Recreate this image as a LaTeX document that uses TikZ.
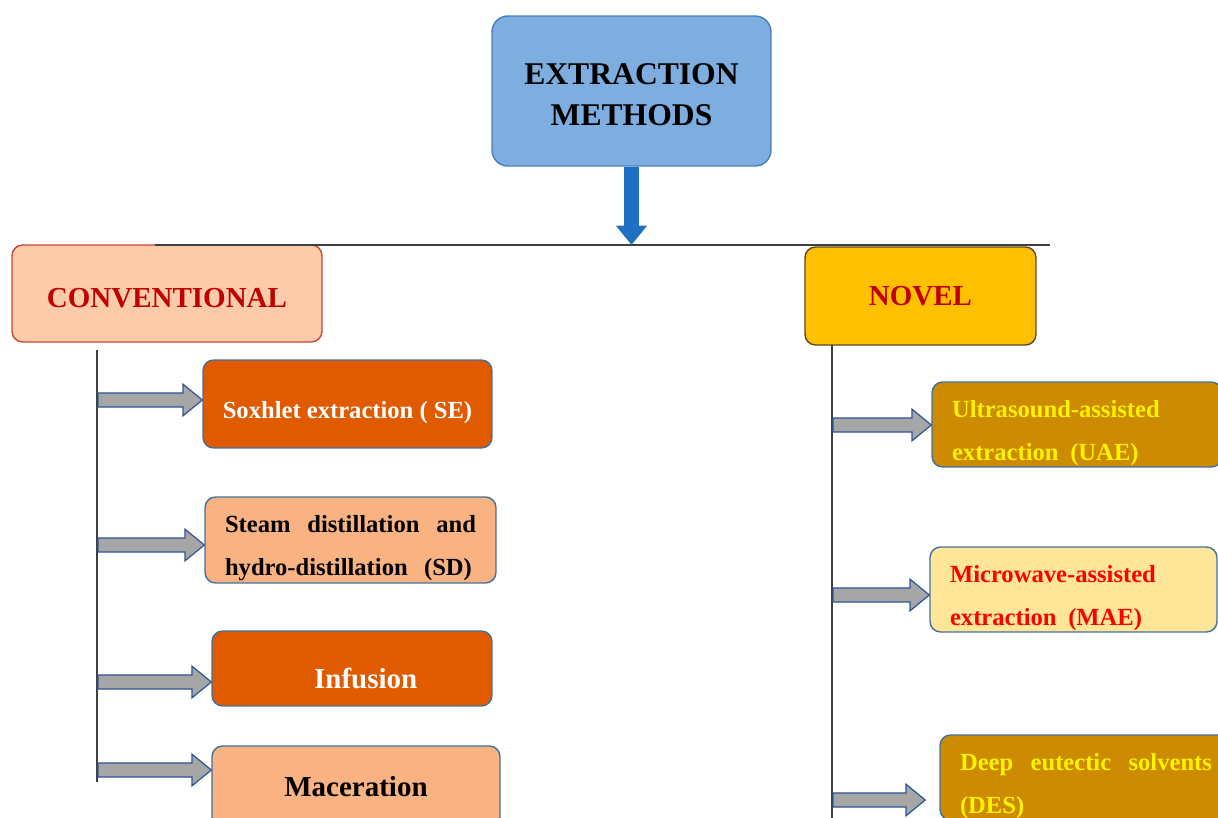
\documentclass[tikz,border=0pt]{standalone}
\usepackage{fontspec}
\setmainfont{Liberation Serif}
\usetikzlibrary{arrows.meta,calc}

\definecolor{titlefill}{HTML}{7EAEE0}
\definecolor{titleline}{HTML}{4A7EBB}
\definecolor{titlearrow}{HTML}{1F6FC2}
\definecolor{convfill}{HTML}{FCCBAA}
\definecolor{convline}{HTML}{C8463C}
\definecolor{headred}{HTML}{C00000}
\definecolor{novelfill}{HTML}{FFC000}
\definecolor{novelline}{HTML}{5A4820}
\definecolor{darkorange}{HTML}{E05A00}
\definecolor{peach}{HTML}{F9B282}
\definecolor{gold}{HTML}{CC8B00}
\definecolor{paleyellow}{HTML}{FFE699}
\definecolor{boxline}{HTML}{41719C}
\definecolor{arrowgray}{HTML}{A6A6A6}
\definecolor{arrowblue}{HTML}{2F5597}

\begin{document}
\begin{tikzpicture}[x=0.02cm, y=-0.02cm,
  box/.style={draw=boxline, line width=0.8pt, rounded corners=6pt},
  small/.style={font=\fontsize{14}{24.5}\selectfont\bfseries},
  big/.style={font=\fontsize{16.5}{20}\selectfont\bfseries},
  twoline/.style={small, align=left, inner xsep=0.4cm, inner ysep=0pt},
  blockto/.style={fill=arrowgray, draw=arrowblue, line width=0.7pt,
    to path={let \p1=(\tikztostart), \p2=(\tikztotarget) in
      (\x1,\y1+4pt) -- (\x2-11pt,\y1+4pt) -- (\x2-11pt,\y1+9pt) -- (\x2,\y1)
      -- (\x2-11pt,\y1-9pt) -- (\x2-11pt,\y1-4pt) -- (\x1,\y1-4pt) -- cycle}}]

\useasboundingbox (0,0) rectangle (1218,818);
\clip (0,0) rectangle (1218,818);

% top box
\node[box, draw=titleline, fill=titlefill, rounded corners=9pt, minimum width=5.58cm,
  minimum height=3cm, align=center, font=\fontsize{18}{23}\selectfont\bfseries]
  (title) at (631.5,91) {\rule{0pt}{16pt}EXTRACTION\\METHODS};

% the two families
\node[box, draw=convline, fill=convfill, big, text=headred, minimum width=6.2cm,
  minimum height=1.94cm] (conv) at (167,293.5) {\rule{0pt}{16pt}CONVENTIONAL};
\node[box, draw=novelline, fill=novelfill, big, text=headred, minimum width=4.62cm,
  minimum height=1.96cm] (novel) at (920.5,296) {NOVEL};

% conventional methods
\node[box, fill=darkorange, small, text=white, minimum width=5.78cm,
  minimum height=1.76cm] (sox) at (347.5,404) {\rule{0pt}{20pt}Soxhlet extraction ( SE)};
\node[box, fill=peach, twoline, text width=5.02cm,
  minimum height=1.72cm] (steam) at (350.5,540)
  {\rule{0pt}{19pt}Steam\hfill distillation\hfill and\\hydro-distillation\ \ (SD)};
\node[box, fill=darkorange, big, text=white, minimum width=5.6cm,
  minimum height=1.5cm] (inf) at (352,668.5) {\rule{0pt}{22.5pt}\hspace*{0.55cm}Infusion};
\node[box, fill=peach, big, minimum width=5.76cm,
  minimum height=1.76cm] (mac) at (356,790) {\rule[-4.5pt]{0pt}{4.5pt}Maceration};

% novel methods
\node[box, fill=gold, twoline, text=yellow, text width=5.0cm,
  minimum height=1.7cm] (uae) at (1077,424.5)
  {\rule{0pt}{19pt}Ultrasound-assisted\\extraction~\hspace{2pt}(UAE)};
\node[box, fill=paleyellow, twoline, text=red, text width=4.94cm,
  minimum height=1.7cm] (mae) at (1073.5,589.5)
  {\rule{0pt}{19pt}Microwave-assisted\\extraction~\hspace{2pt}(MAE)};
\node[box, fill=gold, twoline, text=yellow, text width=5.04cm,
  minimum height=1.7cm] (des) at (1086,777.5)
  {\rule{0pt}{19.5pt}Deep\hfill eutectic\hfill solvents\\(DES)};

% lines
\coordinate (hl) at (155,245);
\coordinate (hr) at (1050,245);
\coordinate (ltop) at (97,350);
\coordinate (lbot) at (97,782);
\coordinate (rtop) at (832,345);
\coordinate (rbot) at (832,818);
\draw[black!75, line width=0.8pt] (hl) -- (hr);
\draw[black!75, line width=0.8pt] (ltop) -- (lbot);
\draw[black!75, line width=0.8pt] (rtop) -- (rbot);
\draw[titlearrow, line width=8pt, -{Triangle[length=11pt,width=17pt]}]
  (title.south) -- (title.south |- hl);

% block arrows
\coordinate (l1) at (98,400);
\coordinate (l2) at (98,545);
\coordinate (l3) at (98,682);
\coordinate (l4) at (98,770);
\coordinate (r1) at (833,425);
\coordinate (r2) at (833,595);
\coordinate (r3) at (833,800);
\draw[blockto] (l1) to (sox.west);
\draw[blockto] (l2) to (steam.west);
\draw[blockto] (l3) to (inf.west);
\draw[blockto] (l4) to (mac.west);
\draw[blockto] (r1) to (uae.west);
\draw[blockto] (r2) to (mae.west);
\draw[blockto] (r3) to ([xshift=-8pt]des.west);
\end{tikzpicture}
\end{document}
